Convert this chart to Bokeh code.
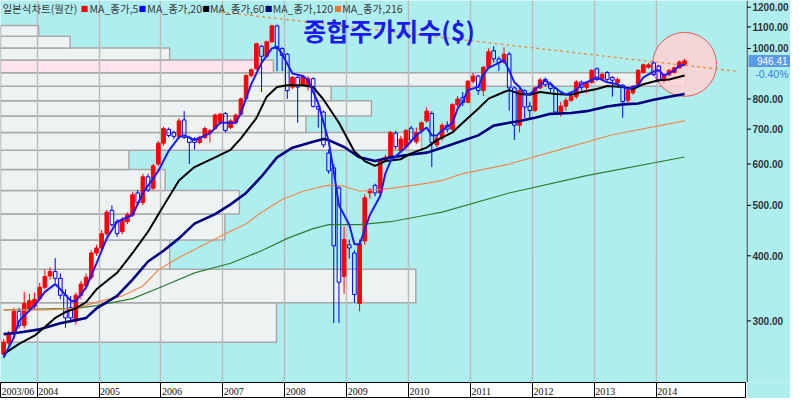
import math
from bokeh.plotting import figure
from bokeh.models import Range1d, FixedTicker, Label, Grid, ColumnDataSource, Span
from bokeh.layouts import column, row
from bokeh.embed import file_html
from bokeh.resources import INLINE
from bokeh.core.properties import value

# ---------------- data (monthly candles, 2003/06 .. 2014/06) ----------------
start_year, start_month = 2003, 6

opens = [259,272,283,313,294,316,320,331,348,366,
         373,362,336,318,300,336,350,364,405,414,
         441,489,465,445,465,479,528,506,567,539,
         600,658,699,690,678,729,675,670,660,675,
         688,702,722,750,705,720,748,802,887,914,
         1010,966,1030,1105,1000,975,843,880,850,845,
         875,774,755,630,590,540,365,420,405,324,
         427,528,546,528,610,620,688,636,648,703,
         662,697,726,750,653,673,712,700,780,805,
         788,865,885,830,920,990,955,940,975,840,
         712,830,775,760,840,872,855,838,755,775,
         795,808,862,842,860,914,872,899,880,860,
         850,795,822,854,899,920,938,925,869,890,
         899,918,932]
highs = [277,287,318,318,341,338,340,355,376,380,
         396,370,345,335,340,358,370,410,420,448,
         490,500,470,475,485,530,535,575,575,600,
         665,708,705,695,735,758,680,675,680,708,
         700,750,752,755,732,750,805,892,915,1025,
         1015,1035,1111,1111,1005,980,885,888,890,885,
         880,780,760,640,600,545,455,430,410,430,
         525,540,550,615,625,695,695,680,700,710,
         705,725,770,758,680,720,725,785,810,825,
         870,898,890,925,1000,1010,965,1005,985,845,
         840,835,790,845,878,880,862,842,790,805,
         820,870,868,862,912,920,897,905,885,880,
         855,835,850,912,935,938,945,930,895,912,
         922,948,956]
lows = [255,268,281,290,290,312,316,328,345,360,
        355,330,291,298,295,330,345,360,400,408,
        436,455,435,440,460,475,500,500,530,535,
        595,650,675,670,670,670,600,640,655,670,
        660,698,715,690,700,715,745,798,880,908,
        825,960,1025,905,905,800,835,720,845,830,
        770,705,645,575,297,297,338,395,325,313,
        420,515,520,520,605,615,640,630,640,660,
        655,690,720,592,645,665,690,695,772,775,
        785,855,815,810,915,940,905,935,760,667,
        690,735,735,755,835,845,825,745,740,760,
        790,800,830,820,855,865,865,865,808,845,
        736,780,815,850,895,915,885,861,860,885,
        895,915,928]
closes = [273,283,313,294,324,328,330,348,365,373,
          362,336,304,304,336,353,364,405,414,441,
          485,459,441,469,480,524,506,567,535,595,
          658,702,681,678,726,675,660,660,675,702,
          695,745,748,696,726,745,800,887,910,1021,
          966,1030,1105,1000,970,830,880,843,884,875,
          774,765,653,582,418,356,430,414,337,422,
          517,535,528,610,618,690,648,670,696,667,
          690,720,758,660,673,712,700,780,800,788,
          865,885,830,920,985,955,940,975,840,712,
          830,772,760,840,870,852,838,755,775,795,
          808,862,842,858,908,872,892,872,869,872,
          791,830,846,908,930,930,891,869,891,908,
          918,942,946.41]

# moving-average lines (month index, value)
ma_blue_x = [0,2,3,6,8,10,11,13,14,16,18,20,22,25,27,30,32,34,35,37,40,42,45,46,48,50,52,53,54,56,
             58,59,61,63,64,65,67,68,69,71,73,74,75,78,80,82,83,84,85,87,88,89,90,92,93,94,96,97,98,99,
             100,101,102,104,105,106,108,109,111,112,114,115,117,119,120,121,123,124,126,127,128,130,131,132]
ma_blue_y = [255,279,300,321,341,353,345,328,327,348,387,432,465,479,528,582,636,676,681,667,
             687,720,720,752,854,938,1000,1008,975,895,885,870,784,664,580,500,459,421,421,479,
             521,575,608,647,681,705,681,681,696,720,766,791,832,843,891,918,938,951,907,861,
             843,818,818,850,869,854,825,815,832,854,869,880,861,854,843,836,850,880,903,908,
             887,908,928,928]
ma_black_x = [0,3,6,8,10,12,14,16,18,22,25,28,31,34,37,41,44,46,49,51,53,55,58,60,62,65,68,70,72,74,
              77,79,82,84,87,89,92,94,97,98,100,102,104,107,110,112,115,117,120,122,124,127,129,132]
ma_black_y = [259,271,281,292,304,312,317,326,345,371,405,445,499,558,592,618,639,672,735,808,
              843,850,850,843,798,720,634,608,595,608,613,629,645,667,690,720,766,801,825,832,
              818,815,825,818,815,825,836,847,843,836,854,869,872,887]
ma_navy_x = [0,3,7,11,14,16,18,22,25,28,31,34,37,41,44,47,50,53,56,60,62,63,66,69,72,75,79,82,85,92,
             95,98,100,103,106,110,113,117,120,123,126,129,132]
ma_navy_y = [283,285,289,297,301,304,317,335,360,390,409,432,461,481,502,528,568,618,645,662,
             670,667,647,618,608,618,626,631,645,681,711,720,726,736,749,752,758,774,781,784,
             797,808,818]
ma_orange_x = [0,8,14,18,23,27,30,34,39,43,47,50,54,58,62,63,66,69,72,75,82,85,89,98,108,118,132]
ma_orange_y = [315,315,317,326,335,350,376,397,421,441,461,485,513,532,544,546,544,532,535,539,
               551,558,575,600,640,683,726]
ma_green_x = [0,14,18,25,31,37,44,50,55,60,63,69,75,82,85,98,113,132]
ma_green_y = [315,317,321,331,350,371,387,409,432,451,459,459,465,479,485,528,570,619]

trend_x = [42, 142.5]
trend_y = [1175, 903]

# price-volume profile (bands bottom -> top)
profile_edges = [273,325,377,429,481,534,586,638,690,742,794,846,898,950,1002,1055,1107]
profile_volume = [53.5,80.5,32.8,43.5,46.3,31.9,24.9,81.6,59.2,71.9,64.1,132.8,52.9,32.8,13.5,7.4]
profile_highlight = 12   # band containing the latest price

y_ticks = [300, 400, 500, 600, 700, 800, 1000, 1100, 1200]
first_label = "2003/06"
last_change = "-0.40%"
legend_names = ["MA_종가,5", "MA_종가,20", "MA_종가,60", "MA_종가,120", "MA_종가,216"]
legend_colors = ["#ff0000", "#0000ff", "#000000", "#000080", "#f07830"]

# ---------------- derived ----------------
n = len(closes)
idx = list(range(n))
months = [((start_month - 1 + k) % 12) + 1 for k in idx]
years = [start_year + (start_month - 1 + k) // 12 for k in idx]
year_bounds = [k - 0.5 for k in idx if months[k] == 1]
year_labels = [first_label] + [str(years[k]) for k in idx if months[k] == 1]

X0, X1 = -0.6, 144.0
Y0, Y1 = 228.5, 1236.0

def px2x(px):
    return X0 + px * (X1 - X0) / 762.0

def py2y(py):
    return Y1 * math.exp(-py / 397.0 * math.log(Y1 / Y0))

BG = "#afeeee"
W_MAIN = 746
W_AX = 44
H_MAIN = 382
H_STRIP = 16

p = figure(width=W_MAIN, height=H_MAIN, x_range=Range1d(X0, X1), y_range=Range1d(Y0, Y1),
           y_axis_type="log", y_axis_location=None, x_axis_location=None,
           toolbar_location=None, output_backend="svg",
           min_border_left=0, min_border_top=0, min_border_bottom=0, min_border_right=0)
p.background_fill_color = BG
p.border_fill_color = BG
p.outline_line_color = None
p.xgrid.visible = False
p.ygrid.visible = False

p.add_layout(Grid(dimension=0, ticker=FixedTicker(ticks=year_bounds),
                  grid_line_color="#bdbdbd", grid_line_width=1.5))

# volume profile bars
prof = ColumnDataSource(dict(
    left=[X0] * len(profile_volume),
    right=[X0 + v for v in profile_volume],
    bottom=profile_edges[:-1],
    top=profile_edges[1:],
    fill=["#fde4ee" if k == profile_highlight else "#edf2f2" for k in range(len(profile_volume))],
))
r_prof = p.quad(left="left", right="right", bottom="bottom", top="top", source=prof,
                fill_color="fill", line_color="#a9a9a9", line_width=1.5)
r_prof.level = "image"

# highlight circle on the latest price
p.scatter(x=[idx[-1]], y=[closes[-1] * 0.985], size=64, marker="circle",
          fill_color="#ffd2d2", fill_alpha=0.85, line_color="#e85a5a", line_width=1)

# candles
up = [k for k in idx if closes[k] >= opens[k]]
dn = [k for k in idx if closes[k] < opens[k]]
su = ColumnDataSource(dict(x=up, top=[closes[k] for k in up], bottom=[opens[k] for k in up],
                           high=[highs[k] for k in up], low=[lows[k] for k in up]))
sd = ColumnDataSource(dict(x=dn, top=[opens[k] for k in dn], bottom=[closes[k] for k in dn],
                           high=[highs[k] for k in dn], low=[lows[k] for k in dn]))
p.segment(x0="x", y0="high", x1="x", y1="low", source=su, line_color="#ff0000", line_width=1)
p.vbar(x="x", width=0.7, top="top", bottom="bottom", source=su,
       fill_color="#ff0000", line_color="#ff0000")
p.segment(x0="x", y0="high", x1="x", y1="top", source=sd, line_color="#0000ff", line_width=1)
p.segment(x0="x", y0="bottom", x1="x", y1="low", source=sd, line_color="#0000ff", line_width=1)
p.vbar(x="x", width=0.7, top="top", bottom="bottom", source=sd,
       fill_alpha=0, line_color="#0000ff", line_width=1)

# trend line and moving averages
p.line(trend_x, trend_y, line_color="#f08a40", line_width=1.3, line_dash="3 3")
p.line(ma_green_x, ma_green_y, line_color="#2e7d32", line_width=1.2)
p.line(ma_orange_x, ma_orange_y, line_color="#f4884c", line_width=1.2)
p.line(ma_navy_x, ma_navy_y, line_color="#000080", line_width=2.6)
p.line(ma_black_x, ma_black_y, line_color="#000000", line_width=2)
p.line(ma_blue_x, ma_blue_y, line_color="#1a1aff", line_width=2)

# legend row (text)
ly = py2y(8)
p.add_layout(Label(x=px2x(2), y=ly, text="일본식차트(월간)", text_baseline="middle",
                   text_align="left", text_font="Noto Sans CJK KR", text_font_size="10.5px",
                   text_color="#3a3a3a"))
sq_px = [82, 141, 206, 270, 341]
tx_px = [91, 150, 214, 278, 349]
for name, col, sx, tx in zip(legend_names, legend_colors, sq_px, tx_px):
    p.add_layout(Label(x=px2x(sx), y=ly, text="■", text_baseline="middle", text_align="left",
                       text_font="DejaVu Sans", text_font_size="8px", text_color=col))
    p.add_layout(Label(x=px2x(tx), y=ly, text=name, text_baseline="middle", text_align="left",
                       text_font="Noto Sans CJK KR", text_font_size="10.5px", text_color="#3a3a3a"))

# big title
p.add_layout(Label(x=px2x(397), y=py2y(31), text="종합주가지수($)", text_align="center",
                   text_baseline="middle", text_font="Noto Sans CJK KR", text_font_size="25px",
                   text_font_style="bold", text_color="#1a1aee"))

# ---------------- right price scale panel (shares the price range) ----------------
pr = figure(width=W_AX, height=H_MAIN + H_STRIP, x_range=Range1d(0, W_AX), y_range=p.y_range,
            y_axis_type="log", x_axis_location=None, y_axis_location=None,
            toolbar_location=None, output_backend="svg",
            min_border_left=0, min_border_top=0, min_border_right=0, min_border_bottom=H_STRIP)
pr.background_fill_color = BG
pr.border_fill_color = BG
pr.outline_line_color = None
pr.xgrid.visible = False
pr.ygrid.visible = False
pr.add_layout(Span(location=0.5, dimension="height", line_color="black", line_width=1))
pr.segment(x0=[0.5] * len(y_ticks), x1=[4.5] * len(y_ticks), y0=y_ticks, y1=y_ticks,
           line_color="black", line_width=1)
pr.text(x=[6] * len(y_ticks), y=y_ticks, text=[f"{t:.2f}" for t in y_ticks],
        text_font=value("Liberation Sans"), text_font_size=value("10px"),
        text_font_style="bold", text_color="#333333", text_baseline="middle", text_align="left")

# latest-price tag
half = math.exp(6.0 / H_MAIN * math.log(Y1 / Y0))
pr.quad(left=[2], right=[W_AX], bottom=[closes[-1] / half], top=[closes[-1] * half],
        fill_color="#5a9ae6", line_color=None)
pr.text(x=[W_AX - 3], y=[closes[-1]], text=[f"{closes[-1]:.2f}"],
        text_font=value("Liberation Sans"), text_font_size=value("10px"),
        text_color="white", text_baseline="middle", text_align="right")
pr.text(x=[W_AX - 2], y=[py2y(76)], text=[last_change],
        text_font=value("Liberation Sans"), text_font_size=value("10.5px"),
        text_color="#2e7fe0", text_baseline="middle", text_align="right")

# ---------------- date strip ----------------
p2 = figure(width=W_MAIN, height=H_STRIP, x_range=p.x_range, y_range=Range1d(0, 1),
            x_axis_location=None, y_axis_location=None, toolbar_location=None,
            output_backend="svg", min_border_left=0, min_border_top=0,
            min_border_bottom=0, min_border_right=0)
p2.background_fill_color = "white"
p2.border_fill_color = BG
p2.outline_line_color = "black"
p2.xgrid.visible = False
p2.ygrid.visible = False
p2.add_layout(Grid(dimension=0, ticker=FixedTicker(ticks=year_bounds),
                   grid_line_color="black", grid_line_width=1))
p2.text(x=[X0] + year_bounds, y=[0.45] * len(year_labels), text=year_labels,
        text_font=value("Liberation Sans Narrow"), text_font_size=value("10px"),
        text_baseline="middle", text_align="left", x_offset=1, text_color="#111111")

layout = row(column(p, p2, spacing=0), pr, spacing=0)
open("out.html", "w").write(file_html(layout, INLINE))
